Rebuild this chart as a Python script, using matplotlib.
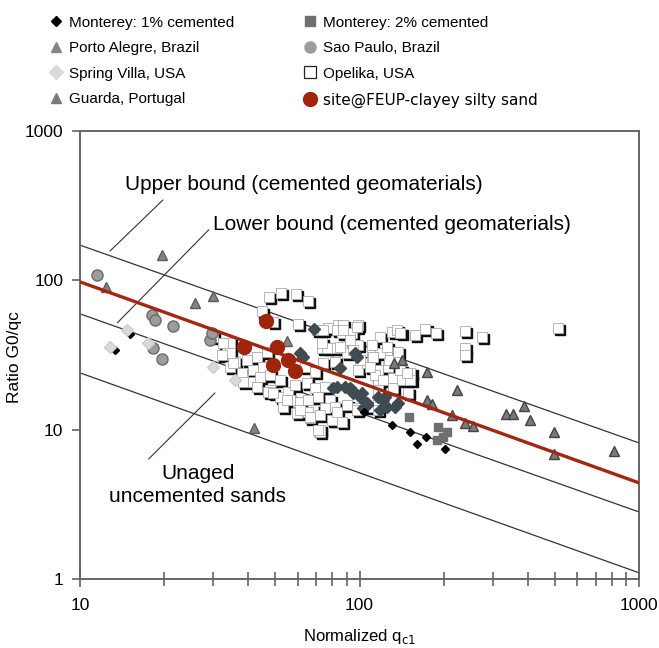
import numpy as np
import matplotlib
matplotlib.use('Agg')
import matplotlib.pyplot as plt
from matplotlib import transforms
from matplotlib.lines import Line2D
from matplotlib.ticker import LogLocator, NullFormatter

plt.rcParams['font.family'] = ['Liberation Sans', 'DejaVu Sans']

# data (normalized qc1, G0/qc)
mont1_x = [131, 152, 173, 161, 202, 13.3, 15.1, 104]
mont1_y = [10.7, 9.7, 8.9, 8.0, 7.4, 34.2, 43.8, 13.1]

mont2_x = [150, 191, 206, 189, 199]
mont2_y = [12.2, 10.4, 9.7, 8.5, 8.9]

# dark diamonds inside the cluster (no legend entry)
dark_x = [68.8, 61.2, 96.4, 85.1, 80.4, 88.7, 94.0, 100.4, 106, 116, 121, 103,
          62.8, 94.8, 125, 137, 98, 83, 92.4, 102, 106, 123, 134, 118]
dark_y = [47.2, 32.6, 32.6, 25.9, 19.0, 19.3, 18.4, 16.6, 15.1, 16.6, 15.8, 14.0,
          30.7, 17.6, 14.2, 15.1, 30.7, 19.3, 19.0, 17.6, 14.6, 16.6, 14.2, 13.5]

porto_x = [19.6, 12.4, 25.8, 29.9, 55.0, 42.0]
porto_y = [148, 90, 71, 79, 39.3, 10.3]

saopaulo_x = [11.5, 18.1, 18.5, 21.5, 18.2, 19.6, 29.2, 29.7]
saopaulo_y = [109, 59, 54, 49.5, 35.3, 29.8, 39.9, 44.4]

spring_x = [12.8, 14.7, 17.5, 29.9, 35.9]
spring_y = [35.8, 46.5, 38.1, 26.3, 21.5]

guarda_x = [142, 133, 174, 223, 174, 182, 214, 238, 255, 334, 354, 388, 408, 497, 497, 814]
guarda_y = [29.3, 28.0, 24.3, 18.4, 15.8, 14.9, 12.5, 11.1, 10.6, 12.7, 12.7, 14.4, 11.6, 9.7, 6.9, 7.2]

opelika_x = [47.5, 52.4, 59.3, 65.4, 44.8, 49.1, 60.2, 77.1, 83.7, 98.8, 131, 70.5, 86.5, 94.0,
             34.4, 33.6, 43.0, 46.7, 73.5, 80.4, 86.5, 90.2, 98.8, 111, 125, 34.4, 35.9, 39.6,
             41.6, 45.2, 38.3, 41.6, 44.1, 47.9, 52.0, 63.8, 69.3, 74.0, 81.7, 98.8, 106, 116,
             126, 136, 132, 116, 47.9, 52.0, 55.5, 58.7, 64.9, 69.3, 75.3, 60.2, 65.4, 71.1,
             78.4, 62.8, 68.2, 75.3, 81.7, 90.2, 98, 107, 116, 80.4, 86.5, 72.3, 66.5, 53.2,
             59.7, 29.9, 32.5, 34.4, 32.2, 35.3, 38.0, 38.3, 43.0, 47.1, 56.4, 65.4, 72.3,
             72.3, 79.7, 83.0, 98, 116, 118, 132, 142, 152, 152, 140, 128, 118, 111, 100.4,
             94.8, 76.5, 73.5, 74.0, 83.0, 92.4, 87.3, 118, 125, 137, 136, 111, 140, 158,
             172, 188, 238, 274, 238, 238, 513, 112, 114, 121, 148, 149, 116, 109, 98, 87.3,
             92.4, 85.1, 71.1, 66.5, 61.2, 55, 49.1]
opelika_y = [77, 82, 81, 73, 62, 52.6, 51.1, 48.0, 50.3, 50.3, 45.1, 46.5, 44.4, 44.4,
             38.1, 32.6, 30.7, 33.1, 35.3, 35.3, 35.3, 32.6, 36.9, 31.7, 33.1, 26.3, 28.4, 29.3,
             25.1, 26.3, 22.2, 20.9, 22.5, 23.2, 21.5, 26.3, 24.3, 28.0, 28.4, 25.1, 28.0, 25.1,
             26.3, 29.3, 22.2, 20.9, 18.4, 16.6, 17.9, 19.9, 20.5, 19.0, 19.3, 15.3, 15.8, 16.6,
             15.8, 13.1, 13.5, 14.0, 14.2, 14.6, 14.0, 14.2, 14.6, 11.6, 11.3, 9.7, 12.0, 14.2,
             12.9, 41.8, 38.1, 32.6, 31.7, 28.0, 24.0, 20.9, 19.3, 17.9, 15.8, 13.1, 12.5,
             9.95, 11.6, 13.1, 13.5, 13.5, 16.6, 19.0, 21.5, 24.0, 21.5, 25.1, 29.3, 32.6, 30.7, 29.3,
             34.2, 35.3, 38.1, 46.5, 46.5, 44.4, 50.3, 41.8, 35.8, 33.1, 46.5, 36.9, 44.4, 43.1,
             47.2, 44.4, 45.8, 41.8, 35.3, 31.7, 48.0, 30.7, 23.2, 21.5, 24.0, 17.6, 18.4, 26.3, 48.7, 46.5,
             39.9, 35.8, 9.95, 12.2, 13.5, 15.8, 17.6]

feup_x = [46.3, 38.6, 50.7, 49.1, 55.5, 58.7]
feup_y = [53.5, 35.8, 35.8, 27.1, 29.3, 24.7]

# reference lines
line_x = [10, 1000]
upper_y = [172, 8.15]
lower_y = [59.6, 2.81]
unaged_y = [24.0, 1.10]
fit_y = [97.6, 4.40]

x_ticks = [10, 100, 1000]
x_tick_labels = ['10', '100', '1000']
y_ticks = [1, 10, 100, 1000]
y_tick_labels = ['1', '10', '100', '1000']

fig = plt.figure(figsize=(6.59, 6.48), dpi=100)
ax = fig.add_axes([0.1214, 0.1065, 0.8483, 0.6914])
ax.set_xscale('log')
ax.set_yscale('log')

ax.plot(line_x, upper_y, color='#333333', lw=0.9, zorder=1)
ax.plot(line_x, lower_y, color='#333333', lw=0.9, zorder=1)
ax.plot(line_x, unaged_y, color='#333333', lw=0.9, zorder=1)

# Opelika squares with a dark drop shadow
shadow = transforms.offset_copy(ax.transData, fig=fig, x=1.6, y=-1.6, units='points')
ax.plot(opelika_x, opelika_y, ls='none', marker='s', ms=7.3, mfc='#111111', mec='#111111',
        transform=shadow, zorder=2)
ax.plot(opelika_x, opelika_y, ls='none', marker='s', ms=7.3, mfc='white', mec='#aaaaaa',
        mew=0.6, zorder=2.1)

ax.plot(dark_x, dark_y, ls='none', marker='D', ms=5.8, mfc='#3e4c52', mec='#3e4c52', zorder=3)
ax.plot(mont1_x, mont1_y, ls='none', marker='D', ms=4.5, mfc='black', mec='black', zorder=3)
ax.plot(mont2_x, mont2_y, ls='none', marker='s', ms=6, mfc='#6f6f6f', mec='#6f6f6f', zorder=3)
ax.plot(porto_x, porto_y, ls='none', marker='^', ms=7, mfc='#858585', mec='#5a5a5a', zorder=3)
ax.plot(guarda_x, guarda_y, ls='none', marker='^', ms=7.5, mfc='#7a7a7a', mec='#444444', zorder=3)
ax.plot(saopaulo_x, saopaulo_y, ls='none', marker='o', ms=8, mfc='#9c9c9c', mec='#6a6a6a', zorder=3)
ax.plot(spring_x, spring_y, ls='none', marker='D', ms=6.5, mfc='#d9d9d9', mec='#cccccc', zorder=3)

ax.plot(line_x, fit_y, color='#a3260f', lw=2.4, zorder=4)
ax.plot(feup_x, feup_y, ls='none', marker='o', ms=10, mfc='#9e250c', mec='#9e250c', zorder=5)

# annotations with leader lines
lead = dict(arrowstyle='-', color='#333333', lw=0.8, shrinkA=0, shrinkB=0)
ax.annotate('', xy=(12.8, 157), xytext=(19.8, 345), arrowprops=lead)
ax.annotate('', xy=(13.6, 51.9), xytext=(28.9, 218), arrowprops=lead)
ax.annotate('', xy=(17.6, 6.36), xytext=(30.4, 17.6), arrowprops=lead)
ax.text(14.5, 435, 'Upper bound (cemented geomaterials)', fontsize=15, va='center', ha='left')
ax.text(29.9, 235, 'Lower bound (cemented geomaterials)', fontsize=15, va='center', ha='left')
ax.text(26.4, 4.26, 'Unaged\nuncemented sands', fontsize=15, va='center', ha='center',
        multialignment='center', linespacing=1.25)

ax.set_xlim(10, 1000)
ax.set_ylim(1, 1000)
ax.set_xticks(x_ticks)
ax.set_xticklabels(x_tick_labels)
ax.set_yticks(y_ticks)
ax.set_yticklabels(y_tick_labels)
ax.xaxis.set_minor_locator(LogLocator(base=10, subs=np.arange(2, 10)))
ax.xaxis.set_minor_formatter(NullFormatter())
ax.yaxis.set_minor_locator(LogLocator(base=10, subs=[]))
ax.yaxis.set_minor_formatter(NullFormatter())
ax.tick_params(axis='x', which='major', direction='inout', length=12, width=1.1,
               color='#555555', labelsize=12.5, pad=8)
ax.tick_params(axis='x', which='minor', direction='inout', length=10, width=1.1, color='#555555')
ax.tick_params(axis='y', which='major', direction='out', length=6, width=1.1,
               color='#555555', labelsize=12.5, pad=6)
for sp in ax.spines.values():
    sp.set_color('#666666')
    sp.set_linewidth(1.4)

ax.set_xlabel(r'Normalized q$_{\mathrm{c1}}$', fontsize=12, labelpad=10)
ax.set_ylabel('Ratio G0/qc', fontsize=12.5)
ax.yaxis.set_label_coords(-0.103, 0.495)

# legend
handles = [
    Line2D([], [], ls='none', marker='D', ms=5, mfc='black', mec='black'),
    Line2D([], [], ls='none', marker='^', ms=7, mfc='#858585', mec='#858585'),
    Line2D([], [], ls='none', marker='D', ms=7, mfc='#d9d9d9', mec='#d9d9d9'),
    Line2D([], [], ls='none', marker='^', ms=7, mfc='#7a7a7a', mec='#7a7a7a'),
    Line2D([], [], ls='none', marker='s', ms=6.5, mfc='#6f6f6f', mec='#6f6f6f'),
    Line2D([], [], ls='none', marker='o', ms=8, mfc='#9c9c9c', mec='#9c9c9c'),
    Line2D([], [], ls='none', marker='s', ms=8, mfc='white', mec='#222222', mew=0.9),
    Line2D([], [], ls='none', marker='o', ms=10, mfc='#9e250c', mec='#9e250c'),
]
labels = ['Monterey: 1% cemented', 'Porto Alegre, Brazil', 'Spring Villa, USA', 'Guarda, Portugal',
          'Monterey: 2% cemented', 'Sao Paulo, Brazil', 'Opelika, USA', 'site@FEUP-clayey silty sand']
leg = fig.legend(handles, labels, loc='upper left', bbox_to_anchor=(0.075, 0.976), ncol=2,
                 frameon=False, fontsize=11, handlelength=0.8, handletextpad=0.45,
                 labelspacing=0.76, columnspacing=4.6, borderpad=0, borderaxespad=0)
leg.get_texts()[7].set_fontfamily(['DejaVu Sans'])

fig.savefig('out.png', dpi=100)
